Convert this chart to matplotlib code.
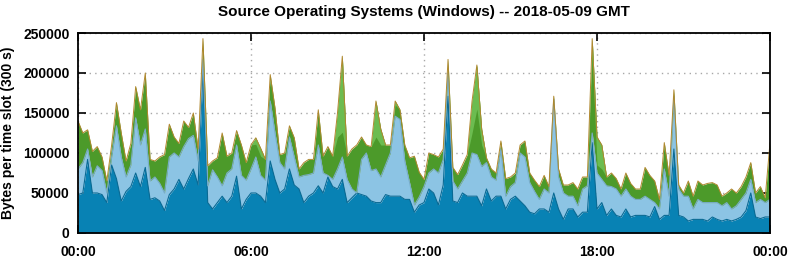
import numpy as np
import matplotlib
matplotlib.use("Agg")
import matplotlib.pyplot as plt

# 10 minute samples over the day, values in kB per 300 s slot
hours = np.arange(145) / 6.0

total = [
    140, 125, 129, 102, 108, 95, 65, 110, 163, 125, 90, 112, 183, 154, 200, 92,
    90, 95, 98, 136, 120, 112, 140, 132, 150, 105, 243, 84, 90, 94, 125, 96,
    100, 128, 110, 88, 110, 119, 106, 92, 198, 156, 98, 100, 134, 119, 80, 88,
    92, 92, 154, 96, 108, 96, 150, 221, 96, 105, 110, 120, 110, 108, 165, 130,
    110, 110, 165, 154, 110, 94, 96, 76, 67, 100, 98, 95, 105, 217, 82, 73,
    85, 98, 165, 210, 130, 94, 80, 75, 115, 68, 70, 75, 110, 115, 75, 66,
    58, 72, 58, 171, 80, 60, 60, 63, 55, 70, 70, 243, 120, 110, 70, 75,
    68, 55, 75, 62, 55, 55, 82, 72, 65, 42, 113, 72, 179, 60, 50, 65,
    46, 65, 60, 62, 63, 60, 46, 50, 55, 50, 58, 70, 88, 50, 58, 44, 113,
]

lblue_top = [
    80, 88, 105, 70, 84, 78, 50, 95, 134, 95, 70, 85, 144, 110, 130, 65,
    70, 62, 50, 95, 100, 95, 108, 118, 122, 90, 217, 59, 79, 70, 59, 75,
    80, 110, 72, 66, 80, 95, 72, 66, 165, 125, 88, 80, 120, 95, 70, 72,
    73, 75, 110, 75, 72, 67, 80, 95, 67, 55, 50, 92, 100, 78, 80, 70,
    85, 100, 146, 142, 90, 63, 35, 45, 58, 75, 80, 75, 92, 200, 65, 55,
    65, 75, 100, 98, 83, 88, 70, 66, 105, 46, 58, 63, 100, 95, 63, 52,
    42, 55, 50, 167, 70, 50, 46, 46, 34, 55, 59, 125, 75, 67, 59, 58,
    55, 46, 55, 46, 42, 42, 46, 42, 38, 30, 80, 46, 170, 55, 46, 46,
    30, 42, 38, 38, 38, 38, 34, 38, 30, 34, 42, 50, 67, 38, 42, 38, 42,
]

dblue_top = [
    48, 50, 92, 50, 50, 48, 38, 85, 68, 40, 52, 58, 75, 58, 82, 42,
    44, 40, 28, 48, 55, 67, 55, 68, 80, 60, 204, 38, 30, 38, 46, 38,
    46, 71, 30, 42, 50, 50, 46, 38, 90, 67, 50, 55, 80, 60, 55, 38,
    46, 50, 59, 50, 70, 58, 55, 67, 38, 44, 50, 48, 46, 40, 38, 38,
    48, 46, 46, 46, 42, 42, 26, 35, 38, 55, 50, 35, 60, 171, 40, 38,
    50, 46, 46, 46, 34, 55, 40, 46, 46, 30, 42, 46, 40, 34, 26, 24,
    30, 30, 26, 50, 30, 17, 30, 30, 20, 26, 26, 113, 30, 38, 22, 30,
    22, 20, 30, 20, 22, 22, 22, 20, 33, 17, 22, 22, 105, 22, 20, 15,
    17, 17, 17, 15, 20, 17, 15, 17, 15, 17, 20, 28, 50, 20, 18, 20, 20,
]

# thickness of the light green layer on top of the dark green one
lgreen = [
    0, 0, 0, 0, 0, 0, 0, 0, 0, 0, 0, 0, 0, 0, 0, 0,
    0, 0, 0, 0, 0, 0, 0, 0, 0, 0, 0, 0, 0, 0, 0, 0,
    0, 0, 0, 0, 0, 8, 10, 0, 0, 0, 0, 0, 0, 0, 0, 0,
    0, 0, 0, 0, 0, 0, 30, 95, 0, 0, 0, 0, 0, 0, 45, 20,
    0, 0, 5, 0, 0, 0, 0, 0, 0, 0, 0, 0, 0, 0, 0, 0,
    0, 0, 40, 55, 20, 0, 0, 0, 0, 0, 0, 0, 0, 0, 0, 0,
    0, 0, 0, 0, 0, 0, 0, 0, 0, 0, 0, 20, 35, 30, 0, 0,
    0, 0, 0, 0, 0, 0, 0, 0, 0, 0, 0, 0, 0, 0, 0, 0,
    0, 0, 0, 0, 0, 0, 0, 0, 0, 0, 0, 0, 0, 0, 0, 0, 0,
]

yticks = [0, 50000, 100000, 150000, 200000, 250000]
xticks = [0, 6, 12, 18, 24]
xlabels = ["00:00", "06:00", "12:00", "18:00", "00:00"]

plt.rcParams["font.family"] = ["Liberation Sans", "DejaVu Sans"]
plt.rcParams["font.weight"] = "bold"

T = np.array(total) * 1000.0
L = np.array(lblue_top) * 1000.0
D = np.array(dblue_top) * 1000.0
LG = np.array(lgreen) * 1000.0

fig = plt.figure(figsize=(7.92, 2.59), dpi=100)
ax = fig.add_axes([78 / 792, 26 / 259, 692 / 792, 200 / 259])

ax.fill_between(hours, 0, D, color="#0882b4", lw=0)
ax.fill_between(hours, D, L, color="#8cc4e4", lw=0)
ax.fill_between(hours, L, T, color="#4c9a2a", lw=0)
ax.fill_between(hours, T - LG, T, color="#6cbc50", lw=0)
ax.plot(hours, D, color="#0a6a94", lw=0.8)
ax.plot(hours, L, color="#78acc8", lw=0.8)
ax.plot(hours, T, color="#b0882e", lw=0.7)

ax.set_xlim(0, 24)
ax.set_ylim(0, 250000)
ax.set_yticks(yticks)
ax.set_yticklabels([str(v) for v in yticks], fontsize=10, fontweight="bold")
ax.set_xticks(xticks)
ax.set_xticklabels(xlabels, fontsize=10, fontweight="bold")
ax.tick_params(direction="in", length=6, width=1.2, top=True, right=True)
ax.tick_params(axis="y", pad=6)
ax.tick_params(axis="x", pad=9)
ax.grid(True, color="#a8a8a8", linestyle=(0, (1, 3)), lw=1)
ax.set_axisbelow(True)
for s in ax.spines.values():
    s.set_linewidth(1.3)
    s.set_zorder(5)

ax.set_ylabel("Bytes per time slot (300 s)", fontsize=10, fontweight="bold", labelpad=6)
ax.set_title("Source Operating Systems (Windows) -- 2018-05-09 GMT",
             fontsize=11, fontweight="bold", pad=12)

fig.savefig("out.png", dpi=100)
